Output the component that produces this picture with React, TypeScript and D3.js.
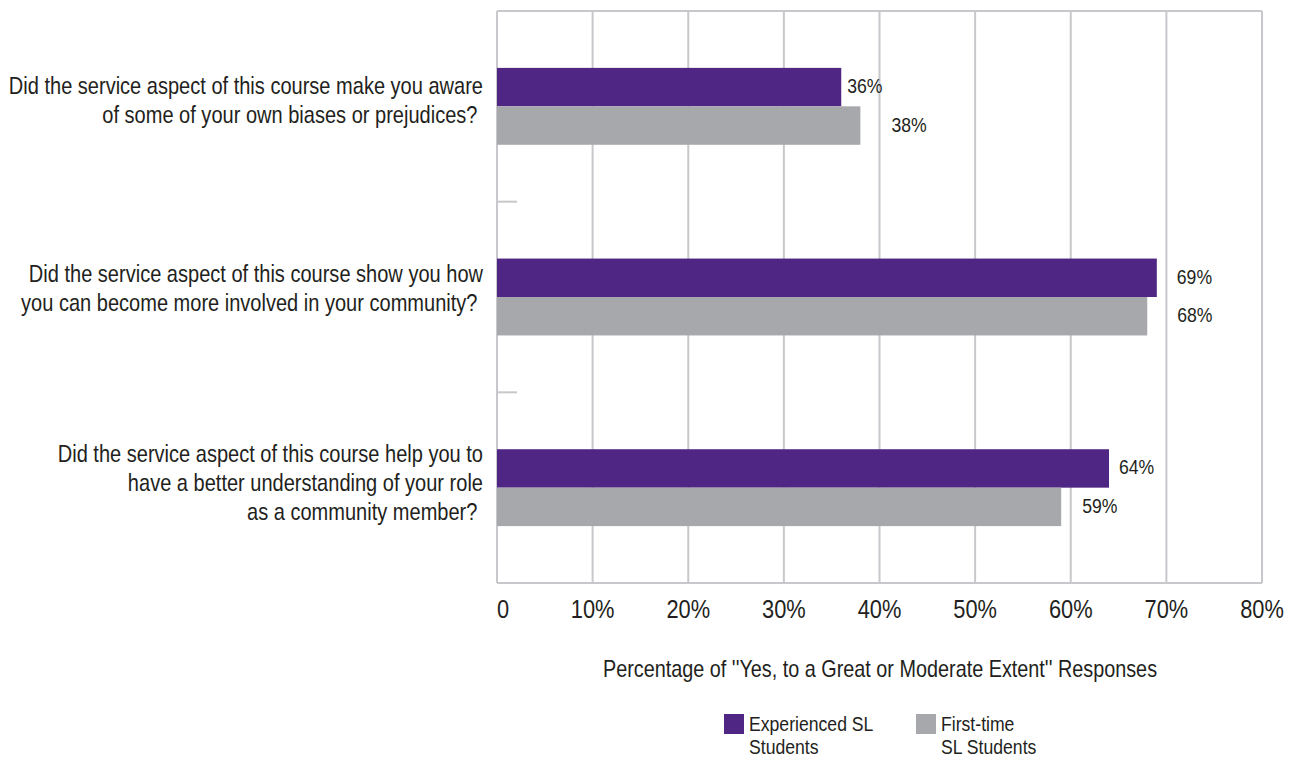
import React from "react";
import * as d3 from "d3";

const questions = [
  ["Did the service aspect of this course make you aware", "of some of your own biases or prejudices?\u00a0"],
  ["Did the service aspect of this course show you how", "you can become more involved in your community?\u00a0"],
  ["Did the service aspect of this course help you to", "have a better understanding of your role", "as a community member?\u00a0"],
];
const seriesNames = ["Experienced SL Students", "First-time SL Students"];
const legendLines = [["Experienced SL", "Students"], ["First-time", "SL Students"]];
const experienced = [36, 69, 64];
const firstTime = [38, 68, 59];
const xTicks = [0, 10, 20, 30, 40, 50, 60, 70, 80];
const axisTitle = "Percentage of ''Yes, to a Great or Moderate Extent'' Responses";

// label offsets past the bar end, as placed in the original
const labelNudge = [
  [6, 31],
  [20, 30],
  [10, 21],
];

const colors = ["#4f2683", "#a7a8ab"];
const gridColor = "#c8c8cc";
const textColor = "#231f20";
const font = "'Liberation Sans', Arial, sans-serif";
const squeeze = 0.84; // fake a condensed face

const W = 1296;
const H = 758;
const margin = { top: 11, left: 497, right: 34, bottom: 175 };

type CTextProps = {
  x: number;
  y: number;
  size: number;
  anchor?: "start" | "middle" | "end";
  sx?: number;
  children: React.ReactNode;
};

const CText: React.FC<CTextProps> = ({ x, y, size, anchor = "start", sx = squeeze, children }) => (
  <text
    transform={`translate(${x},${y}) scale(${sx},1)`}
    fontSize={size}
    fill={textColor}
    textAnchor={anchor}
    style={{ whiteSpace: "pre" }}
  >
    {children}
  </text>
);

const App: React.FC = () => {
  const x = d3
    .scaleLinear()
    .domain([0, 80])
    .range([margin.left, W - margin.right]);

  const y0 = d3
    .scaleBand<number>()
    .domain(d3.range(questions.length))
    .range([margin.top, H - margin.bottom]);

  const y1 = d3
    .scaleBand<number>()
    .domain([0, 1])
    .range([0, y0.bandwidth()])
    .paddingInner(0)
    .paddingOuter(1.48);

  const series = [experienced, firstTime];
  const [x0, x1] = x.range();
  const [yTop, yBottom] = y0.range();

  return (
    <svg
      width={W}
      height={H}
      style={{ position: "absolute", left: 0, top: 0, background: "#fff" }}
      fontFamily={font}
    >
      {/* grid + frame */}
      {xTicks.map((t) => (
        <line key={"g" + t} x1={x(t)} x2={x(t)} y1={yTop} y2={yBottom} stroke={gridColor} strokeWidth={2} />
      ))}
      <line x1={x0} x2={x1} y1={yTop} y2={yTop} stroke={gridColor} strokeWidth={2} />
      <line x1={x0} x2={x1} y1={yBottom} y2={yBottom} stroke={gridColor} strokeWidth={2} />
      {questions.slice(1).map((_, i) => (
        <line
          key={"t" + i}
          x1={x0}
          x2={x0 + 20}
          y1={y0(i + 1)}
          y2={y0(i + 1)}
          stroke={gridColor}
          strokeWidth={2}
        />
      ))}

      {/* bars */}
      {questions.map((_, i) => (
        <g key={"b" + i} transform={`translate(0,${y0(i)})`}>
          {series.map((vals, s) => (
            <g key={s}>
              <rect
                x={x(0)}
                y={y1(s)}
                width={x(vals[i]) - x(0)}
                height={y1.bandwidth()}
                fill={colors[s]}
              />
              <CText
                x={x(vals[i]) + labelNudge[i][s]}
                y={(y1(s) as number) + y1.bandwidth() / 2 + 6}
                size={21}
              >
                {vals[i]}%
              </CText>
            </g>
          ))}
        </g>
      ))}

      {/* category labels */}
      {questions.map((lines, i) => {
        const mid = (y0(i) as number) + y0.bandwidth() / 2;
        const start = mid - ((lines.length - 1) * 29) / 2 + 3 - (i === 1 ? 4 : 0) - (i === 0 ? 1 : 0);
        return (
          <g key={"q" + i}>
            {lines.map((ln, j) => (
              <CText key={j} x={483} y={start + j * 29} size={24} anchor="end" sx={0.835}>
                {ln}
              </CText>
            ))}
          </g>
        );
      })}

      {/* x tick labels */}
      {xTicks.map((t, i) => (
        <CText key={"xl" + t} x={x(t)} y={618} size={26} anchor={i === 0 ? "start" : "middle"}>
          {t === 0 ? "0" : `${t}%`}
        </CText>
      ))}

      <CText x={880} y={677} size={23.6} anchor="middle">
        {axisTitle}
      </CText>

      {/* legend */}
      {seriesNames.map((name, s) => {
        const lx = 724 + s * 192;
        return (
          <g key={name}>
            <rect x={lx} y={714} width={20} height={20} fill={colors[s]} />
            {legendLines[s].map((ln, j) => (
              <CText key={j} x={lx + 25} y={731 + j * 23} size={21}>
                {ln}
              </CText>
            ))}
          </g>
        );
      })}
    </svg>
  );
};

export default App;
